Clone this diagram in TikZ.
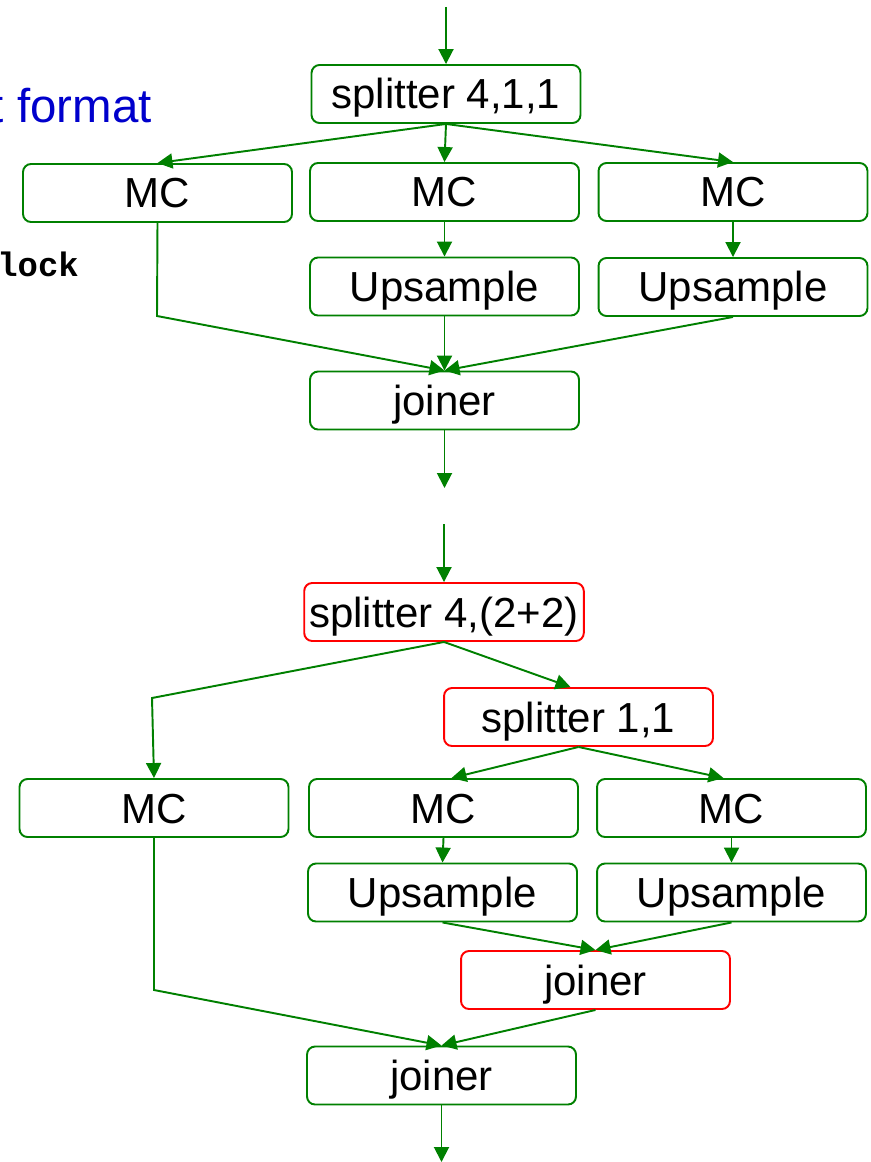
\documentclass[tikz,border=0pt]{standalone}
\usepackage{fontspec}
\setmainfont{Liberation Sans}
\setmonofont{Liberation Mono}
\usetikzlibrary{arrows.meta}
\definecolor{flowgreen}{RGB}{0,128,0}
\definecolor{flowred}{RGB}{255,0,0}
\definecolor{titleblue}{RGB}{0,0,204}
\tikzset{
  stage/.style={draw=flowgreen, line width=1.1pt, rounded corners=0.16cm,
    minimum width=5.38cm, minimum height=1.16cm, inner sep=0.1cm,
    text height=0.75cm, text depth=0.15cm, font=\fontsize{23.9}{28}\selectfont},
  redstage/.style={stage, draw=flowred},
  wire/.style={draw=flowgreen, line width=1.1pt},
  flow/.style={wire, -{Triangle[length=0.3cm,width=0.3cm]}}
}
\begin{document}
\begin{tikzpicture}[x=0.02cm,y=-0.02cm]
        % page frame
        \useasboundingbox (0,0) rectangle (871,1162);
        \clip (0,0) rectangle (871,1162);
        % cut-off labels at the left edge
        \node[anchor=base west, inner sep=0, text=titleblue, font=\fontsize{27}{32}\selectfont] (title) at (-9.4,123) {t format};
        \node[anchor=base west, inner sep=0, font=\ttfamily\bfseries\fontsize{19.3}{23}\selectfont] (blocklabel) at (-3,276) {lock};
        % upper graph: blocks
        \coordinate (in1) at (446,7);
        \node[stage] (spl1) at (446,94) {splitter 4,1,1};
        \node[stage] (mc1) at (157.5,193) {MC};
        \node[stage] (mc2) at (444.5,192) {MC};
        \node[stage] (mc3) at (733,192) {MC};
        \node[stage] (up2) at (444.5,286.5) {Upsample};
        \node[stage] (up3) at (733,287) {Upsample};
        \node[stage] (join1) at (444.5,400.5) {joiner};
        \coordinate (bend1) at (157,316);
        \coordinate (out1) at (444.5,488);
        % upper graph: connectors
        \draw[flow] (in1) -- (spl1.north);
        \draw[flow] (spl1.south) -- (mc1.north);
        \draw[flow] (spl1.south) -- (mc2.north);
        \draw[flow] (spl1.south) -- (mc3.north);
        \draw[flow] (mc2.south) -- (up2.north);
        \draw[flow] (mc3.south) -- (up3.north);
        \draw[flow] (mc1.south) -- (bend1) -- (join1.north);
        \draw[flow] (up2.south) -- (join1.north);
        \draw[flow] (up3.south) -- (join1.north);
        \draw[flow] (join1.south) -- (out1);
        % lower graph: blocks
        \coordinate (in2) at (444,524);
        \node[redstage] (spl2) at (444,612) {splitter 4,(2+2)};
        \node[redstage] (spl3) at (578.5,717) {splitter 1,1};
        \node[stage] (mca) at (154,808) {MC};
        \node[stage] (mcb) at (443.5,808) {MC};
        \node[stage] (mcc) at (731.5,808) {MC};
        \node[stage] (upb) at (442.5,892.5) {Upsample};
        \node[stage] (upc) at (731.5,892.5) {Upsample};
        \node[redstage] (join2) at (595.5,980) {joiner};
        \node[stage] (join3) at (441.5,1075.5) {joiner};
        \coordinate (bend2) at (152,698);
        \coordinate (bend3) at (154,990);
        \coordinate (out2) at (441.5,1162);
        % lower graph: connectors
        \draw[flow] (in2) -- (spl2.north);
        \draw[flow] (spl2.south) -- (bend2) -- (mca.north);
        \draw[flow] (spl2.south) -- ([xshift=-0.16cm]spl3.north);
        \draw[flow] (spl3.south) -- ([xshift=0.16cm]mcb.north);
        \draw[flow] (spl3.south) -- ([xshift=-0.16cm]mcc.north);
        \draw[flow] (mcb.south) -- (upb.north);
        \draw[flow] (mcc.south) -- (upc.north);
        \draw[flow] (upb.south) -- (join2.north);
        \draw[flow] (upc.south) -- (join2.north);
        \draw[flow] (mca.south) -- (bend3) -- (join3.north);
        \draw[flow] (join2.south) -- (join3.north);
        \draw[flow] (join3.south) -- (out2);
\end{tikzpicture}
\end{document}
